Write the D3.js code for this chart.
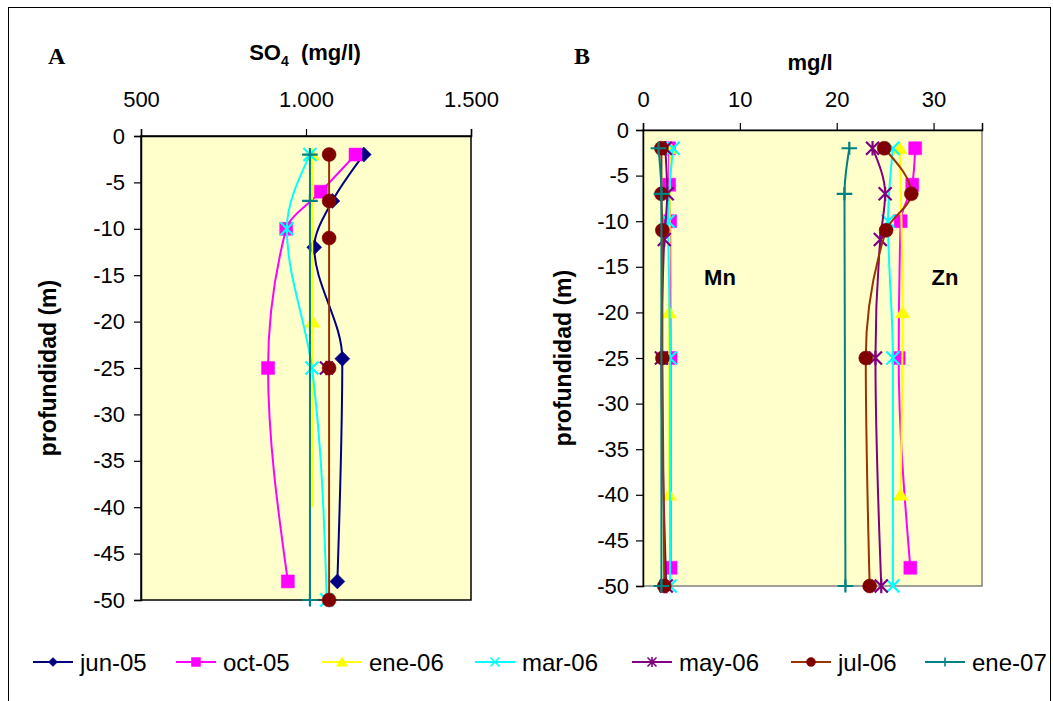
<!DOCTYPE html>
<html><head><meta charset="utf-8">
<script src="https://cdn.jsdelivr.net/npm/d3@7"></script>
<style>
body{margin:0;background:#fff}
svg{display:block}
text{font-family:"Liberation Sans",Arial,sans-serif;fill:#000}
</style>
</head><body>
<script>
// Sampling dates (legend order = drawing order)
const dates = ["jun-05","oct-05","ene-06","mar-06","may-06","jul-06","ene-07"];
const lineColors = ["#000080","#ff00ff","#ffff00","#00ffff","#800080","#993300","#008080"];
const markColors = ["#000080","#ff00ff","#ffff00","#00ffff","#800080","#800000","#008080"];
const markTypes  = ["diamond","square","triangle","x","star","circle","plus"];

// Panel A: SO4 (mg/l) profiles, [depth m, value]; a third entry false = point without marker
const so4Jun05 = [[-2,1175],[-7,1080],[-12,1025],[-24,1110],[-48,1095]];
const so4Oct05 = [[-2,1150],[-6,1045],[-10,940],[-25,885],[-48,945]];
const so4Ene06 = [[-2,1018],[-20,1020],[-40,1020,false]];
const so4Mar06 = [[-2,1012],[-10,942],[-25,1018],[-50,1063]];
const so4May06 = [[-25,1062]];
const so4Jul06 = [[-2,1070],[-7,1070],[-11,1070],[-25,1070],[-50,1070]];
const so4Ene07 = [[-2,1012],[-7,1012],[-50,1012]];

// Panel B: Mn (mg/l) profiles
const mnOct05 = [[-2,2.7],[-6,2.7],[-10,2.8],[-25,2.85],[-48,2.85]];
const mnEne06 = [[-2,2.8],[-20,2.7],[-40,2.7]];
const mnMar06 = [[-2,3.1],[-10,2.6],[-25,2.8],[-50,2.8]];
const mnMay06 = [[-2,2.3],[-7,2.5],[-12,2.2],[-25,1.9],[-50,2.4]];
const mnJul06 = [[-2,1.9],[-7,1.9],[-11,2.0],[-25,2.0],[-50,2.2]];
const mnEne07 = [[-2,1.6],[-7,1.9],[-50,1.9]];

// Panel B: Zn (mg/l) profiles
const znOct05 = [[-2,28.1],[-6,27.8],[-10,26.6],[-25,26.4],[-48,27.6]];
const znEne06 = [[-2,26.5],[-20,26.8],[-40,26.6]];
const znMar06 = [[-2,25.8],[-10,25.3],[-25,25.8],[-50,25.8]];
const znMay06 = [[-2,23.7],[-7,25.0],[-12,24.5],[-25,24.0],[-50,24.6]];
const znJul06 = [[-2,24.9],[-7,27.7],[-11,25.1],[-25,23.0],[-50,23.4]];
const znEne07 = [[-2,21.3],[-7,20.8],[-50,20.9]];

// Axis ticks
const so4Ticks = [500,1000,1500];
const mgTicks = [0,10,20,30];
const depthTicks = [0,-5,-10,-15,-20,-25,-30,-35,-40,-45,-50];

// Series tables: [date index, points]
const seriesA = [[0,so4Jun05],[1,so4Oct05],[2,so4Ene06],[3,so4Mar06],[4,so4May06],[5,so4Jul06],[6,so4Ene07]];
const seriesB = [[1,mnOct05],[1,znOct05],[2,mnEne06],[2,znEne06],[3,mnMar06],[3,znMar06],
                 [4,mnMay06],[4,znMay06],[5,mnJul06],[5,znJul06],[6,mnEne07],[6,znEne07]];

const W = 1053, H = 701;
const svg = d3.select("body").append("svg").attr("width", W).attr("height", H);

// outer frame
svg.append("rect").attr("x",8.5).attr("y",7.5).attr("width",1042).attr("height",700)
  .attr("fill","none").attr("stroke","#000").attr("stroke-width",1);

const fmtThousands = d3.formatLocale({decimal:",", thousands:".", grouping:[3], currency:["",""]}).format(",");

function markerShape(type, s) {
  switch (type) {
    case "diamond": return {d:`M0,${-s}L${s},0L0,${s}L${-s},0Z`, fill:true};
    case "square": return {d:`M${-s},${-s}H${s}V${s}H${-s}Z`, fill:true};
    case "triangle": return {d:`M0,${-s}L${s*1.15},${s*0.85}L${-s*1.15},${s*0.85}Z`, fill:true};
    case "circle": return {d:`M${s},0A${s},${s} 0 1 1 ${-s},0A${s},${s} 0 1 1 ${s},0Z`, fill:true};
    case "x": return {d:`M${-s},${-s}L${s},${s}M${-s},${s}L${s},${-s}`, fill:false};
    case "star": return {d:`M${-s},${-s}L${s},${s}M${-s},${s}L${s},${-s}M0,${-s*1.1}L0,${s*1.1}`, fill:false};
    case "plus": return {d:`M${-s*1.2},0L${s*1.2},0M0,${-s}L0,${s}`, fill:false};
  }
}

function drawMarker(g, k, x, y, s, sw) {
  const m = markerShape(markTypes[k], s);
  g.append("path").attr("d", m.d).attr("transform", `translate(${x},${y})`)
    .attr("fill", m.fill ? markColors[k] : "none")
    .attr("stroke", markColors[k])
    .attr("stroke-width", m.fill ? 0.5 : sw);
}

function panel(cfg) {
  const g = svg.append("g");
  const x = cfg.x, y = cfg.y;
  const [x0, x1] = x.range(), [y0, y1] = y.range();

  g.append("rect").attr("x", x0).attr("y", y0).attr("width", x1 - x0).attr("height", y1 - y0)
    .attr("fill", "#ffffcc").attr("stroke", cfg.border).attr("stroke-width", 1.5);

  // top value axis
  const ax = g.append("g").attr("transform", `translate(0,${y0})`)
    .call(d3.axisTop(x).tickValues(cfg.xTicks).tickFormat(cfg.xFmt).tickSize(7).tickPadding(cfg.xPad));
  ax.select(".domain").attr("stroke", "#000").attr("stroke-width", 1.5);
  ax.selectAll(".tick line").attr("stroke", "#000").attr("stroke-width", 1.2);
  ax.selectAll("text").style("font-size", "22px").attr("fill", "#000");

  // left depth axis
  const ay = g.append("g").attr("transform", `translate(${x0},0)`)
    .call(d3.axisLeft(y).tickValues(depthTicks).tickFormat(d => String(d)).tickSize(7).tickPadding(cfg.yPad));
  ay.select(".domain").attr("stroke", "#000").attr("stroke-width", 1.5);
  ay.selectAll(".tick line").attr("stroke", "#000").attr("stroke-width", 1.2);
  ay.selectAll("text").style("font-size", "22px").attr("fill", "#000");

  g.append("text").attr("transform", `translate(${cfg.yLabelX},${(y0 + y1) / 2}) rotate(-90)`)
    .attr("text-anchor", "middle").attr("dy", "0.35em")
    .style("font-size", "23px").style("font-weight", "bold").text("profundidad (m)");

  // smoothed profile lines, interpolated along depth
  const line = d3.line().curve(d3.curveMonotoneY)
    .x(p => x(p[1])).y(p => y(p[0]));

  cfg.series.forEach(([k, pts]) => {
    if (pts.length > 1)
      g.append("path").attr("d", line(pts)).attr("fill", "none")
        .attr("stroke", lineColors[k]).attr("stroke-width", 2);
    pts.forEach(p => {
      if (p[2] === false) return;
      drawMarker(g, k, x(p[1]), y(p[0]), markTypes[k] === "diamond" ? 7.5 : (markTypes[k] === "circle" ? 7 : 6.5), 2.2);
    });
  });
  return g;
}

// Panel A
panel({
  x: d3.scaleLinear().domain([500, 1500]).range([141, 471]),
  y: d3.scaleLinear().domain([0, -50]).range([136, 600]),
  xTicks: so4Ticks, xFmt: fmtThousands, xPad: 22, yPad: 9,
  yLabelX: 48, border: "#000", series: seriesA
});
const tA = svg.append("text").attr("x", 305).attr("y", 60).attr("text-anchor", "middle")
  .style("font-size", "22px").style("font-weight", "bold");
tA.append("tspan").text("SO");
tA.append("tspan").text("4").style("font-size", "14px").attr("dy", 6);
tA.append("tspan").text("  (mg/l)").attr("dy", -6).attr("xml:space", "preserve").style("white-space", "pre");
svg.append("text").attr("x", 48).attr("y", 64).style("font-family", "'Liberation Serif',serif")
  .style("font-size", "24px").style("font-weight", "bold").text("A");

// Panel B
panel({
  x: d3.scaleLinear().domain([0, 35]).range([643, 982]),
  y: d3.scaleLinear().domain([0, -50]).range([130, 586]),
  xTicks: mgTicks, xFmt: d => String(d), xPad: 16, yPad: 7,
  yLabelX: 563, border: "#808080", series: seriesB
});
svg.append("text").attr("x", 810).attr("y", 70).attr("text-anchor", "middle")
  .style("font-size", "22px").style("font-weight", "bold").text("mg/l");
svg.append("text").attr("x", 574).attr("y", 64).style("font-family", "'Liberation Serif',serif")
  .style("font-size", "24px").style("font-weight", "bold").text("B");
svg.append("text").attr("x", 720).attr("y", 285).attr("text-anchor", "middle")
  .style("font-size", "22px").style("font-weight", "bold").text("Mn");
svg.append("text").attr("x", 945).attr("y", 285).attr("text-anchor", "middle")
  .style("font-size", "22px").style("font-weight", "bold").text("Zn");

// Legend
const legendX = [33, 176, 322, 475, 632, 791, 925];
const lg = svg.append("g");
dates.forEach((d, k) => {
  const lx = legendX[k], ly = 662;
  lg.append("line").attr("x1", lx).attr("x2", lx + 40).attr("y1", ly).attr("y2", ly)
    .attr("stroke", lineColors[k]).attr("stroke-width", 2);
  drawMarker(lg, k, lx + 20, ly, markTypes[k] === "triangle" ? 5 : 4.5, 1.6);
  lg.append("text").attr("x", lx + 47).attr("y", ly).attr("dy", "0.36em")
    .style("font-size", "24px").text(d);
});
</script>
</body></html>
